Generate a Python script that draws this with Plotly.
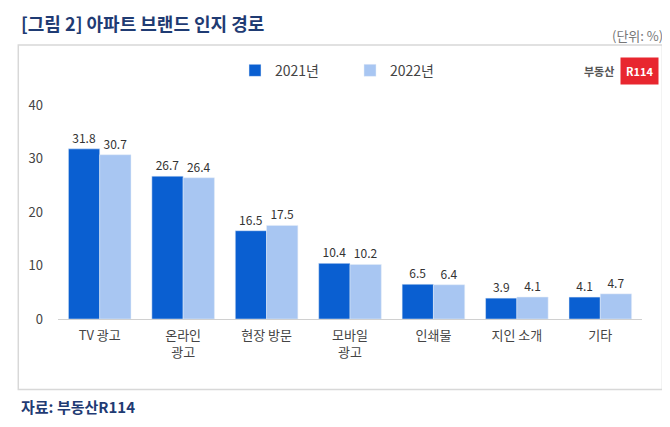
import plotly.graph_objects as go

categories = ["TV 광고", "온라인<br>광고", "현장 방문", "모바일<br>광고", "인쇄물", "지인 소개", "기타"]
values_2021 = [31.8, 26.7, 16.5, 10.4, 6.5, 3.9, 4.1]
values_2022 = [30.7, 26.4, 17.5, 10.2, 6.4, 4.1, 4.7]

FONT = "Noto Sans CJK KR"
DARK = "#0a5fd1"
LIGHT = "#a8c6f2"

fig = go.Figure()
fig.add_bar(x=categories, y=values_2021, name="2021년", marker_color=DARK,
            text=[f"{v:.1f}" for v in values_2021], textposition="outside",
            textfont=dict(size=12, color="#333"), cliponaxis=False)
fig.add_bar(x=categories, y=values_2022, name="2022년", marker_color=LIGHT,
            text=[f"{v:.1f}" for v in values_2022], textposition="outside",
            textfont=dict(size=12, color="#333"), cliponaxis=False)

fig.update_layout(
    width=670, height=427,
    margin=dict(l=50, r=36, t=97, b=116),
    paper_bgcolor="white", plot_bgcolor="white",
    font=dict(family=FONT, size=13, color="#444"),
    barmode="group", bargap=0.25, bargroupgap=0,
    showlegend=True,
    legend=dict(orientation="h", x=0.5, xanchor="center", y=1.16, yanchor="middle",
                font=dict(size=14, color="#444"), itemwidth=30, entrywidth=70),
    xaxis=dict(showline=True, linecolor="#d0d0d0", ticks="", tickfont=dict(size=13),
               ticklabelstandoff=4),
    yaxis=dict(range=[0, 40], dtick=10, showgrid=False, showline=False,
               tickfont=dict(size=13), ticklabelstandoff=14),
)

fig.add_shape(type="rect", xref="paper", yref="paper", x0=-0.068, x1=1.035, y0=-0.33, y1=1.28,
              line=dict(color="#d8d8d8", width=1.5), layer="below")

fig.add_annotation(text="<b>[그림 2] 아파트 브랜드 인지 경로</b>", xref="paper", yref="paper",
                   x=-0.066, y=1.385, xanchor="left", yanchor="middle", showarrow=False,
                   font=dict(size=18, color="#1f3b73", family=FONT))
fig.add_annotation(text="(단위: %)", xref="paper", yref="paper", x=1.04, y=1.325,
                   xanchor="right", yanchor="middle", showarrow=False,
                   font=dict(size=13, color="#777", family=FONT))
fig.add_annotation(text="<b>부동산</b>", xref="paper", yref="paper", x=0.955, y=1.16,
                   xanchor="right", yanchor="middle", showarrow=False,
                   font=dict(size=11, color="#555", family=FONT))
fig.add_annotation(text="<b>R114</b>", xref="paper", yref="paper", x=0.962, y=1.16,
                   xanchor="left", yanchor="middle", showarrow=False, bgcolor="#e8262f",
                   borderpad=5, font=dict(size=11, color="white", family=FONT))
fig.add_annotation(text="<b>자료: 부동산R114</b>", xref="paper", yref="paper",
                   x=-0.066, y=-0.41, xanchor="left", yanchor="middle", showarrow=False,
                   font=dict(size=15, color="#1f3b73", family=FONT))

fig.write_html("out.html")
